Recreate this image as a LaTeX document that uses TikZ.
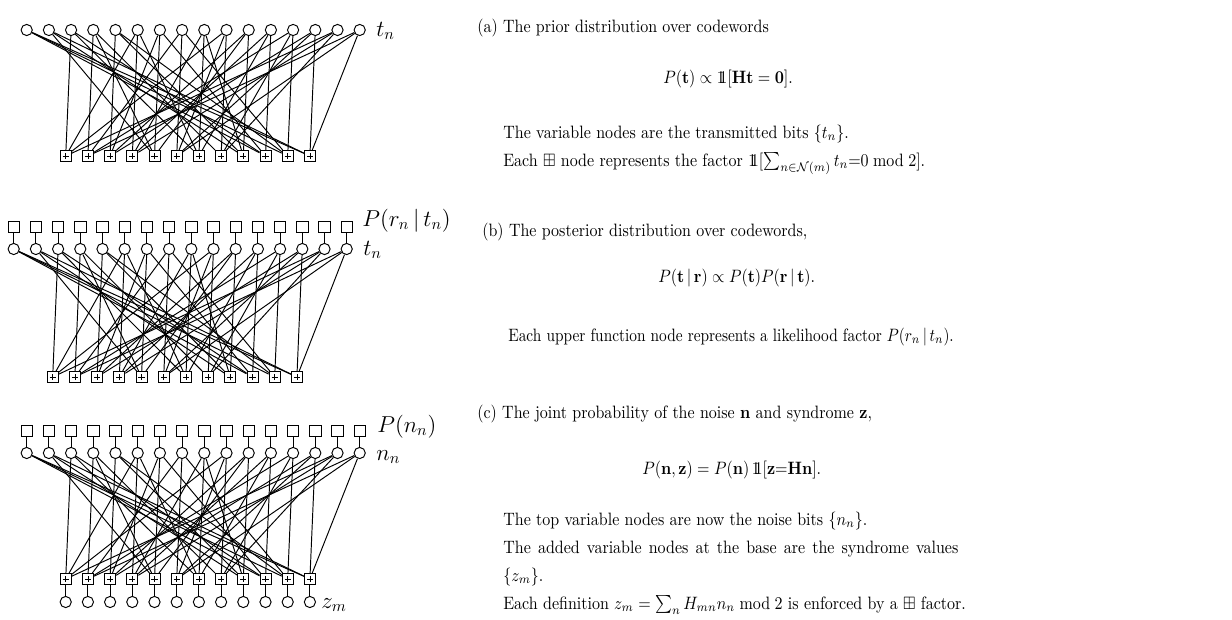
\documentclass[tikz,border=0pt]{standalone}
\usepackage{amsmath,amssymb}
\usepackage{graphicx}
\newcommand{\onebb}{\mathrm{1\!\!1}}
\newcommand{\sy}[1]{\scalebox{1}[1.12]{#1}}
\begin{document}
\begin{tikzpicture}[x=0.625pt,y=-0.625pt,
  var/.style={circle,draw,line width=0.6pt,minimum size=7pt,inner sep=0pt},
  fac/.style={rectangle,draw,line width=0.6pt,minimum size=7.1pt,inner sep=0pt},
  chk/.style={rectangle,draw,line width=0.6pt,minimum size=6.9pt,inner sep=0pt,
    path picture={\draw[line width=0.5pt]
      ([xshift=-1.9pt]path picture bounding box.center) -- ([xshift=1.9pt]path picture bounding box.center)
      ([yshift=-1.9pt]path picture bounding box.center) -- ([yshift=1.9pt]path picture bounding box.center);}},
  link/.style={line width=0.6pt},
  lab/.style={anchor=base west,inner sep=0pt,font=\Large},
  txt/.style={anchor=base west,inner sep=0pt}]
\useasboundingbox (0,0) rectangle (1232,619);
\def\edgelist{0/9,0/10,0/11,1/11,1/8,1/4,2/0,2/6,2/9,3/1,3/4,3/7,4/2,4/8,4/10,5/3,5/0,5/6,6/4,6/2,6/9,7/5,7/1,7/10,8/6,8/3,8/8,9/7,9/0,9/5,10/8,10/2,10/4,11/9,11/3,11/6,12/10,12/1,12/7,13/11,13/2,13/5,14/0,14/3,14/7,15/11,15/1,15/5}
\foreach \p/\dx/\vy/\cy in {a/0/30/156,b/-13/249/377,c/0/453/579}{
  \foreach \i in {0,...,15} \node[var] (\p-v\i) at ({26.7+22.2*\i+\dx},\vy) {};
  \foreach \j in {0,...,11} \node[chk] (\p-c\j) at ({65.7+22.2*\j+\dx},\cy) {};
  \foreach \v/\c in \edgelist \draw[link] (\p-v\v) -- (\p-c\c);
}
% panel (b) likelihood factors
\foreach \i in {0,...,15}{
  \node[fac] (b-f\i) at ({13.7+22.2*\i},227) {};
  \draw[link] (b-f\i) -- (b-v\i);
}
% panel (c) prior factors and syndrome variables
\foreach \i in {0,...,15}{
  \node[fac] (c-f\i) at ({26.7+22.2*\i},431) {};
  \draw[link] (c-f\i) -- (c-v\i);
}
\foreach \j in {0,...,11}{
  \node[var] (c-z\j) at ({65.7+22.2*\j},602) {};
  \draw[link] (c-c\j) -- (c-z\j);
}
% graph labels
\node[lab] (la) at (376,36.5) {$t_n$};
\node[lab] (lb1) at (362,226) {$P(r_n\,|\,t_n)$};
\node[lab] (lb2) at (363,255) {$t_n$};
\node[lab] (lc1) at (377,432.5) {$P(n_n)$};
\node[lab] (lc2) at (376,460) {$n_n$};
\node[lab] (lc3) at (321,608) {$z_m$};
% captions
\node[txt] (ta1) at (477,32) {\sy{(a) The prior distribution over codewords}};
\node[txt] (ta2) at (663,83) {\sy{$P(\mathbf{t}) \propto \onebb[\mathbf{Ht} = \mathbf{0}].$}};
\node[txt] (ta3) at (503,138) {\sy{The variable nodes are the transmitted bits $\{t_n\}$.}};
\node[txt] (ta4) at (503,166) {\sy{Each $\boxplus$ node represents the factor $\onebb[\sum_{n\in\mathcal{N}(m)} t_n{=}0 \bmod 2]$.}};
\node[txt] (tb1) at (482,236) {\sy{(b) The posterior distribution over codewords,}};
\node[txt] (tb2) at (658,282) {\sy{$P(\mathbf{t}\,|\,\mathbf{r}) \propto P(\mathbf{t})P(\mathbf{r}\,|\,\mathbf{t}).$}};
\node[txt] (tb3) at (508,341) {\scalebox{0.96}[1.12]{Each upper function node represents a likelihood factor $P(r_n\,|\,t_n)$.}};
\node[txt] (tc1) at (477,418) {\sy{(c) The joint probability of the noise $\mathbf{n}$ and syndrome $\mathbf{z}$,}};
\node[txt] (tc2) at (642,474) {\sy{$P(\mathbf{n},\mathbf{z}) = P(\mathbf{n})\,\onebb[\mathbf{z}{=}\mathbf{Hn}].$}};
\node[txt] (tc3) at (503,525) {\sy{The top variable nodes are now the noise bits $\{n_n\}$.}};
\node[txt] (tc4) at (503,553) {\sy{\makebox[284.4pt][s]{The added variable nodes at the base are the syndrome values}}};
\node[txt] (tc5) at (503,581) {\sy{$\{z_m\}$.}};
\node[txt] (tc6) at (503,609) {\sy{Each definition $z_m = \sum_n H_{mn} n_n \bmod 2$ is enforced by a $\boxplus$ factor.}};
\end{tikzpicture}
\end{document}
